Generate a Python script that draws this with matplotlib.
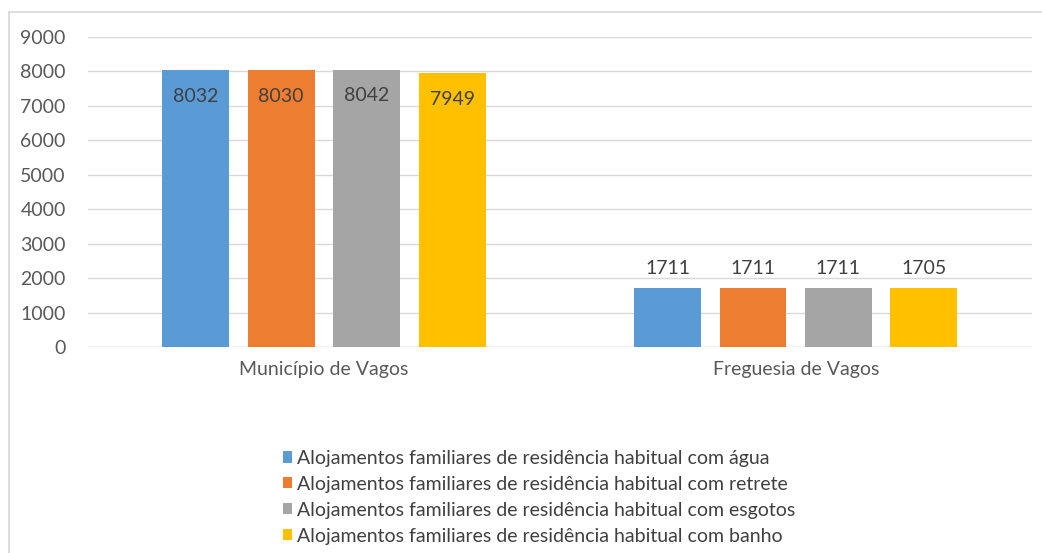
import matplotlib
matplotlib.use("Agg")
import matplotlib.pyplot as plt
from matplotlib.lines import Line2D
import numpy as np

plt.rcParams['font.family'] = ['Lato', 'DejaVu Sans']

categories = ["Município de Vagos", "Freguesia de Vagos"]
series_names = [
    "Alojamentos familiares de residência habitual com água",
    "Alojamentos familiares de residência habitual com retrete",
    "Alojamentos familiares de residência habitual com esgotos",
    "Alojamentos familiares de residência habitual com banho",
]
values = [
    [8032, 1711],
    [8030, 1711],
    [8042, 1711],
    [7949, 1705],
]
colors = ["#5B9BD5", "#ED7D31", "#A5A5A5", "#FFC000"]
y_ticks = [0, 1000, 2000, 3000, 4000, 5000, 6000, 7000, 8000, 9000]

fig = plt.figure(figsize=(10.42, 5.53), dpi=100)
ax = fig.add_axes([0.0845, 0.3725, 0.9055, 0.5605])

x = np.arange(len(categories))
width = 0.142
step = 0.181
offsets = (np.arange(len(values)) - 1.5) * step

for i, (name, vals, c) in enumerate(zip(series_names, values, colors)):
    bars = ax.bar(x + offsets[i], vals, width, color=c, label=name, zorder=2)
    # first group: label inside the bar top, second group: above the bar
    ax.text(bars[0].get_x() + width / 2, vals[0] - 750, str(vals[0]),
            ha='center', va='center', fontsize=14, color='#404040', zorder=3)
    ax.text(bars[1].get_x() + width / 2, vals[1] + 580, str(vals[1]),
            ha='center', va='center', fontsize=14, color='#404040', zorder=3)

ax.set_ylim(0, 9000)
ax.set_xlim(-0.5, 1.5)
ax.set_yticks(y_ticks)
ax.set_xticks(x)
ax.set_xticklabels(categories)
ax.tick_params(axis='both', length=0, labelsize=14, colors='#595959')
ax.tick_params(axis='x', pad=10)
ax.tick_params(axis='y', pad=16)
ax.yaxis.grid(True, color='#D9D9D9', linewidth=1, zorder=0)
for s in ax.spines.values():
    s.set_visible(False)
ax.axhline(0, color='#D9D9D9', linewidth=1, zorder=1)

fig.legend(loc='upper left', bbox_to_anchor=(0.262, 0.204), frameon=False,
           fontsize=14, labelcolor='#404040', handlelength=0.5,
           handleheight=0.5, handletextpad=0.25, labelspacing=0.46,
           borderpad=0)

# outer chart frame
fig.add_artist(Line2D([0.009, 1.0], [0.978, 0.978], color='#D9D9D9', lw=1.2))
fig.add_artist(Line2D([0.009, 0.009], [0.0, 0.978], color='#D9D9D9', lw=1.2))

fig.savefig("out.png", dpi=100, facecolor='white')
